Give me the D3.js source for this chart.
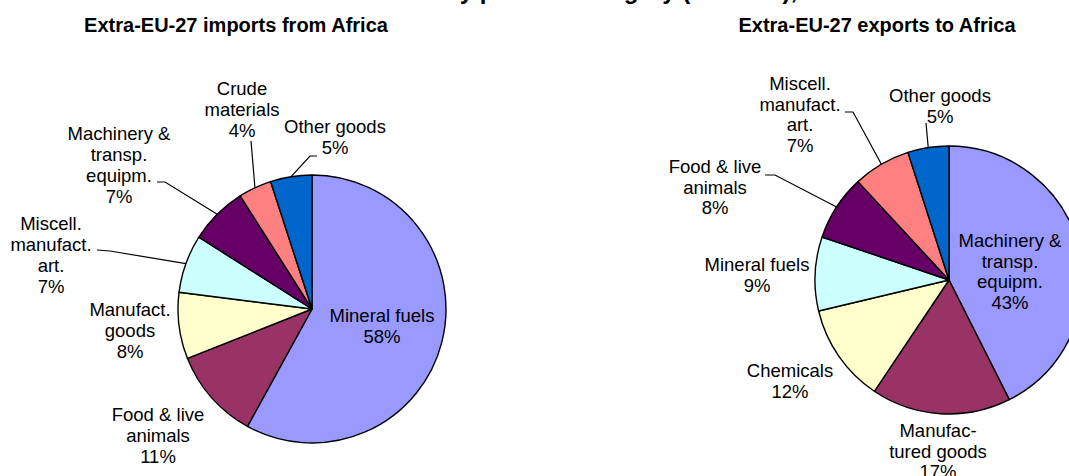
<!DOCTYPE html>
<html>
<head>
<meta charset="utf-8">
<script src="https://cdn.jsdelivr.net/npm/d3@7"></script>
<style>
  html, body { margin: 0; padding: 0; background: #fff; }
  svg { display: block; }
  text { font-family: "Liberation Sans", Arial, sans-serif; fill: #000; }
</style>
</head>
<body>
<svg id="chart" width="1069" height="476"></svg>
<script>
// Product categories (SITC groups) and their shares, %
const importCategories = [
  ["Mineral fuels"],
  ["Food & live", "animals"],
  ["Manufact.", "goods"],
  ["Miscell.", "manufact.", "art."],
  ["Machinery &", "transp.", "equipm."],
  ["Crude", "materials"],
  ["Other goods"]
];
const importShares = [58, 11, 8, 7, 7, 4, 5];

const exportCategories = [
  ["Machinery &", "transp.", "equipm."],
  ["Manufac-", "tured goods"],
  ["Chemicals"],
  ["Mineral fuels"],
  ["Food & live", "animals"],
  ["Miscell.", "manufact.", "art."],
  ["Other goods"]
];
const exportShares = [43, 17, 12, 9, 8, 7, 5];

const sliceColors = ["#9999FF", "#993366", "#FFFFCC", "#CCFFFF", "#660066", "#FF8080", "#0066CC"];

const titleText = "EU-27 trade with Africa by product category (% share), 2011";
const titleLead = "EU-27 trade with Africa ";
const subtitles = ["Extra-EU-27 imports from Africa", "Extra-EU-27 exports to Africa"];

// Layout: label anchors (centre x, first baseline) relative to each pie centre,
// and leader-line start/elbow points (null where no leader is drawn).
const importLabelPos = [[70, 13], [-154, 112], [-182, 7], [-261, -79], [-193, -169], [-70, -214], [23, -176]];
const importLeaders = [null, null, null, [[-215, -59], [-202, -58]], [[-155, -127], [-147, -127]], [[-61, -168]], [[5, -153], [-2, -153]]];
const exportLabelPos = [[61, -33], [-11, 157], [-159, 97], [-192, -9], [-234, -107], [-149, -190], [-9, -178]];
const exportLeaders = [null, null, null, null, [[-184, -105], [-174, -105]], [[-104, -168], [-96, -168]], [[-23, -157]]];

const svg = d3.select("#chart");
svg.append("rect").attr("width", 1069).attr("height", 476).attr("fill", "#fff");

// Main title (its upper part lies above the drawing area)
const title = svg.append("text")
  .attr("y", -1)
  .style("font-size", "24px")
  .style("font-weight", "bold")
  .text(titleText);
const probe = svg.append("text").style("font-size", "24px").style("font-weight", "bold")
  .style("white-space", "pre").text(titleLead);
const leadWidth = probe.node().getComputedTextLength();
probe.remove();
title.attr("x", 445 - leadWidth);

svg.selectAll("text.subtitle")
  .data(subtitles)
  .join("text")
  .attr("class", "subtitle")
  .attr("x", (d, i) => [236, 877][i])
  .attr("y", 31.5)
  .attr("text-anchor", "middle")
  .style("font-size", "20px")
  .style("font-weight", "bold")
  .text(d => d);

function drawPie(cx, cy, radius, categories, shares, labelPos, leaders, lineH) {
  const g = svg.append("g").attr("transform", `translate(${cx},${cy})`);
  const pie = d3.pie().sort(null).value(d => d)
    .startAngle(0).endAngle(2 * Math.PI);
  const arcs = pie(shares);
  const arc = d3.arc().innerRadius(0).outerRadius(radius);

  g.selectAll("path.slice")
    .data(arcs)
    .join("path")
    .attr("class", "slice")
    .attr("d", arc)
    .attr("fill", (d, i) => sliceColors[i])
    .attr("stroke", "#000")
    .attr("stroke-width", 1.4)
    .attr("stroke-linejoin", "round");

  // Leader lines end on the rim at the slice's middle angle
  const line = d3.line();
  arcs.forEach((a, i) => {
    if (!leaders[i]) return;
    const mid = (a.startAngle + a.endAngle) / 2;
    const rim = [radius * Math.sin(mid), -radius * Math.cos(mid)];
    g.append("path")
      .attr("d", line(leaders[i].concat([rim])))
      .attr("fill", "none")
      .attr("stroke", "#000")
      .attr("stroke-width", 1.2);
  });

  arcs.forEach((a, i) => {
    const lines = categories[i].concat([shares[i] + "%"]);
    const [lx, ly] = labelPos[i];
    const t = g.append("text")
      .attr("text-anchor", "middle")
      .style("font-size", "18.5px");
    lines.forEach((s, k) => {
      t.append("tspan").attr("x", lx).attr("y", ly + k * lineH).text(s);
    });
  });
}

drawPie(312, 309, 134, importCategories, importShares, importLabelPos, importLeaders, 21);
drawPie(949, 280, 134, exportCategories, exportShares, exportLabelPos, exportLeaders, 20.5);
</script>
</body>
</html>
